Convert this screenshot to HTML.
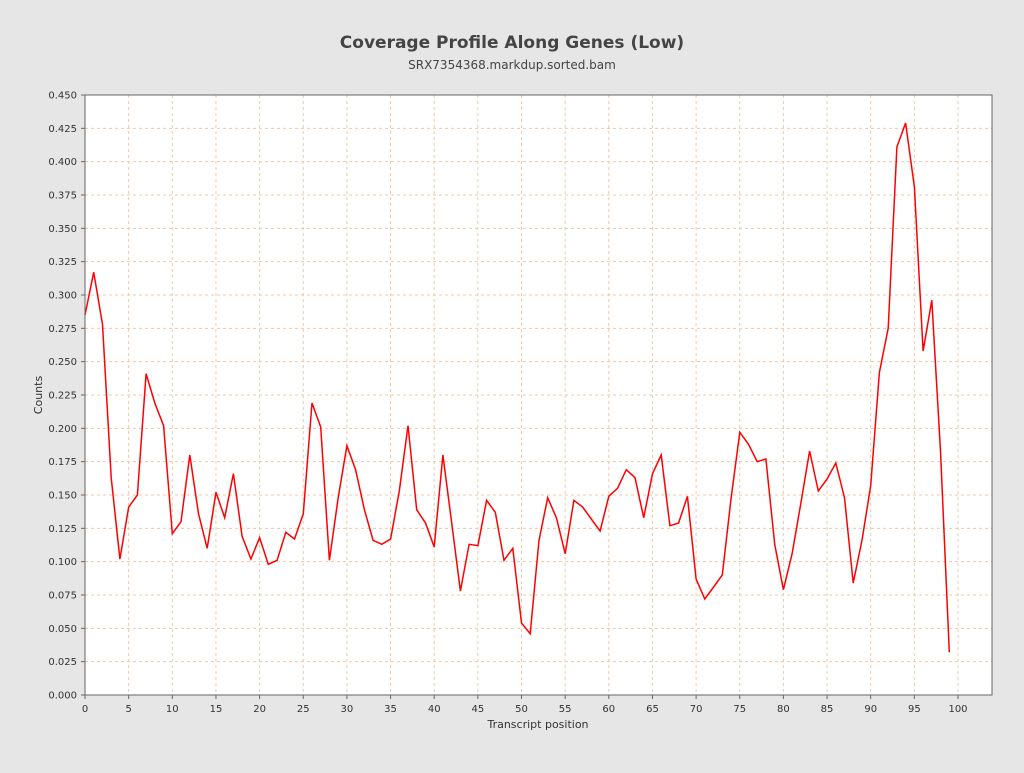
<!DOCTYPE html>
<html><head><meta charset="utf-8"><style>
body{margin:0;background:#e6e6e6;width:1024px;height:768px;overflow:hidden;font-family:"Liberation Sans","DejaVu Sans",sans-serif}
</style></head><body>
<svg id="s" width="1024" height="768" xmlns="http://www.w3.org/2000/svg" font-family="DejaVu Sans, Liberation Sans, sans-serif">
<rect width="1024" height="768" fill="#e6e6e6"/>
<text x="512" y="48" text-anchor="middle" font-size="17" font-weight="bold" fill="#444">Coverage Profile Along Genes (Low)</text>
<text x="512" y="69" text-anchor="middle" font-size="12" fill="#444">SRX7354368.markdup.sorted.bam</text>
<rect x="85" y="95" width="907" height="600" fill="#fff"/>
<g id="g"></g>
<rect x="85" y="95" width="907" height="600" fill="none" stroke="#666" stroke-width="1"/>
<text x="538" y="728" text-anchor="middle" font-size="11" fill="#333">Transcript position</text>
<text transform="translate(42,395) rotate(-90)" text-anchor="middle" font-size="11" fill="#333">Counts</text>
</svg>
<script>
var d=[0.285,0.317,0.278,0.163,0.102,0.141,0.150,0.241,0.219,0.202,0.121,0.130,0.180,0.136,0.110,0.152,0.133,0.166,0.119,0.102,0.118,0.098,0.101,0.122,0.117,0.136,0.219,0.201,0.101,0.148,0.187,0.169,0.139,0.116,0.113,0.117,0.153,0.202,0.139,0.129,0.111,0.180,0.129,0.078,0.113,0.112,0.146,0.137,0.101,0.110,0.054,0.046,0.116,0.148,0.133,0.106,0.146,0.141,0.132,0.123,0.149,0.155,0.169,0.163,0.133,0.166,0.180,0.127,0.129,0.149,0.087,0.072,0.081,0.090,0.147,0.197,0.188,0.175,0.177,0.113,0.079,0.106,0.144,0.183,0.153,0.162,0.174,0.148,0.084,0.116,0.157,0.242,0.275,0.411,0.429,0.381,0.258,0.296,0.183,0.032];
function X(i){return 85+i*8.73}function Y(v){return 695-v*1333.33}
var h='';
for(var i=0;i<=100;i+=5){var x=X(i);h+='<line x1="'+x+'" y1="95" x2="'+x+'" y2="695" stroke="#f0c8a8" stroke-dasharray="3,3"/>';h+='<line x1="'+x+'" y1="695" x2="'+x+'" y2="699" stroke="#666"/><text x="'+x+'" y="712" text-anchor="middle" font-size="10" fill="#333">'+i+'</text>';}
for(var k=0;k<=18;k++){var v=k*0.025,y=Y(v);h+='<line x1="85" y1="'+y+'" x2="992" y2="'+y+'" stroke="#f0c8a8" stroke-dasharray="3,3"/>';h+='<line x1="81" y1="'+y+'" x2="85" y2="'+y+'" stroke="#666"/><text x="77" y="'+(y+3.5)+'" text-anchor="end" font-size="10" fill="#333">'+v.toFixed(3)+'</text>';}
var p=d.map(function(v,i){return X(i).toFixed(1)+','+Y(v).toFixed(1)}).join(' ');
h+='<polyline points="'+p+'" fill="none" stroke="#f00" stroke-width="1.5"/>';
document.getElementById('g').innerHTML=h;
</script>
</body></html>
